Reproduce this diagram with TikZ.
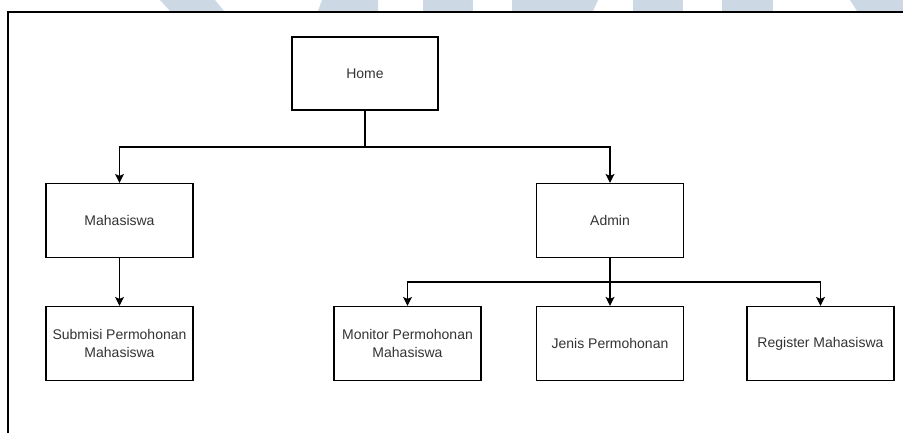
\documentclass[tikz,border=0pt]{standalone}
\usepackage{fontspec}
\setmainfont{Liberation Sans}
\usetikzlibrary{arrows.meta}
\definecolor{wm}{RGB}{204,216,227}
\definecolor{txt}{RGB}{51,51,51}
\begin{document}
\begin{tikzpicture}[x=1pt,y=-1pt,
  box/.style={draw=black, line width=1.2pt, minimum width=147pt, minimum height=74pt,
    inner sep=0pt, align=center, text=txt, font=\fontsize{14}{18}\selectfont},
  conn/.style={draw=black, line width=1.2pt},
  arr/.style={conn, -{Stealth[length=9pt,width=9pt,inset=2pt]}}]
\useasboundingbox (0,0) rectangle (903,433);
\fill[white] (0,0) rectangle (903,433);
% watermark fragments
\fill[wm] (160,0) -- (215,0) -- (224,11) -- (170,11) -- cycle;
\fill[wm] (322,0) -- (378,0) -- (378,11) -- (318,11) -- cycle;
\fill[wm] (423,0) -- (473,0) -- (473,11) -- (423,11) -- cycle;
\fill[wm] (512,0) -- (598,0) -- (593,11) -- (512,11) -- cycle;
\fill[wm] (633,0) -- (683,0) -- (683,11) -- (633,11) -- cycle;
\fill[wm] (722,0) -- (773,0) -- (773,11) -- (722,11) -- cycle;
\fill[wm] (850,0) -- (903,0) -- (903,11) -- (857,11) -- cycle;
% frame
\draw[line width=1.3pt] (8,433) -- (8,12) -- (903,12);
% boxes
\node[box, minimum width=146pt, minimum height=73pt] (home) at (365,73.5) {Home};
\node[box] (maha) at (119.5,220.5) {Mahasiswa};
\node[box] (admin) at (610,220.5) {Admin};
\node[box] (sub) at (119.5,343.5) {Submisi Permohonan\\Mahasiswa};
\node[box] (mon) at (407.5,343.5) {Monitor Permohonan\\Mahasiswa};
\node[box] (jen) at (610,343.5) {Jenis Permohonan};
\node[box] (reg) at (820.5,343.5) {Register Mahasiswa};
% connectors
\coordinate (j1) at (365,147);
\coordinate (j2) at (610,282);
\draw[conn] (home.south) -- (j1);
\draw[arr] (j1) -| (maha.north);
\draw[arr] (j1) -| (admin.north);
\draw[arr] (maha.south) -- (sub.north);
\draw[conn] (admin.south) -- (j2);
\draw[arr] (j2) -| (mon.north);
\draw[arr] (j2) -- (jen.north);
\draw[arr] (j2) -| (reg.north);
\end{tikzpicture}
\end{document}
